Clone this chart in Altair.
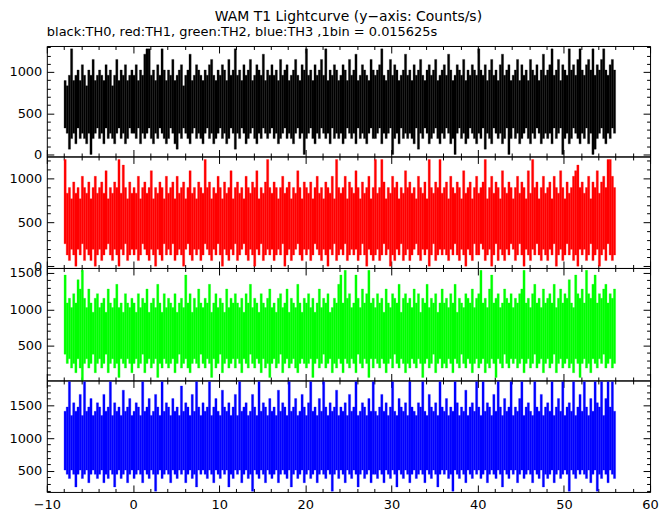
import altair as alt
import pandas as pd

# Lightcurve envelope: for every 0.25 s bin, the highest
# and the lowest rate (counts/s) reached by the 0.015625 s samples inside it.
T_START = -8.0
BIN_WIDTH = 0.25

th0_hi = [
    896, 832, 960, 1280, 896, 960, 1024, 896, 1088, 960, 832, 1024, 960, 1152, 896, 960,
    1024, 960, 896, 1088, 960, 1024, 832, 960, 1152, 896, 1024, 960, 1088, 896, 960, 1024,
    960, 1088, 896, 1024, 960, 1216, 1280, 1280, 960, 1024, 896, 1088, 960, 1280, 1024, 896,
    1024, 960, 1152, 896, 960, 1024, 1088, 832, 960, 1024, 1216, 896, 960, 1088, 1024, 960,
    896, 1024, 960, 1088, 1152, 960, 896, 1024, 960, 1088, 1024, 896, 1152, 960, 1024, 1280,
    960, 1024, 896, 1088, 960, 1024, 1152, 896, 960, 1088, 1024, 960, 1216, 896, 1024, 960,
    1088, 960, 1024, 896, 1152, 960, 1024, 1088, 896, 960, 1024, 1152, 960, 896, 1088, 1024,
    1280, 960, 1024, 896, 1088, 960, 1024, 1152, 960, 1280, 896, 1024, 960, 1088, 1024, 896,
    960, 1088, 1024, 896, 1152, 960, 1024, 1216, 896, 960, 1088, 1024, 960, 896, 1152, 1024,
    960, 1024, 1088, 1280, 960, 896, 1024, 1152, 960, 1088, 1024, 896, 960, 1024, 1216, 960,
    1024, 896, 1088, 960, 1024, 1152, 960, 896, 1024, 1088, 960, 1024, 1152, 896, 960, 1024,
    1088, 960, 1216, 1024, 896, 960, 1088, 1024, 960, 1152, 896, 1024, 960, 1088, 1024, 960,
    1280, 1024, 960, 1088, 896, 1024, 1152, 960, 1024, 896, 1088, 1216, 960, 1024, 1088, 896,
    960, 1024, 1152, 896, 1088, 960, 1024, 896, 1152, 1024, 960, 1088, 896, 1024, 1216, 960,
    1024, 1088, 1280, 960, 1024, 1152, 896, 1088, 1024, 960, 1280, 1024, 1088, 960, 1152, 1280,
    1024, 960, 1088, 1152, 1024, 1280, 960, 1088, 1024, 1152, 1280, 1024, 960, 1088, 1152, 1024,
]
th0_lo = [
    320, 256, 64, 192, 256, 128, 320, 192, 256, 192, 128, 256, 0, 192, 256, 320,
    192, 256, 128, 320, 192, 256, 192, 128, 256, 320, 192, 256, 128, 192, 320, 256,
    256, 192, 320, 128, 256, 192, 256, 320, 192, 128, 256, 192, 320, 256, 192, 128,
    192, 320, 256, 128, 64, 256, 192, 320, 256, 192, 128, 256, 320, 192, 256, 192,
    128, 256, 320, 192, 256, 128, 192, 256, 320, 192, 256, 128, 192, 320, 256, 64,
    256, 192, 320, 256, 128, 192, 256, 320, 192, 128, 256, 192, 320, 256, 192, 256,
    320, 192, 256, 128, 192, 256, 320, 192, 256, 192, 128, 256, 320, 192, 256, 0,
    192, 256, 320, 192, 128, 256, 192, 320, 256, 192, 256, 128, 320, 192, 256, 192,
    256, 128, 192, 320, 256, 192, 256, 128, 320, 192, 256, 192, 128, 256, 320, 192,
    192, 256, 320, 128, 256, 192, 256, 320, 0, 192, 256, 128, 320, 192, 256, 192,
    256, 192, 128, 320, 64, 256, 192, 320, 256, 128, 192, 256, 320, 192, 128, 256,
    192, 320, 256, 128, 192, 0, 256, 320, 192, 256, 128, 192, 320, 256, 192, 128,
    256, 192, 320, 64, 256, 192, 128, 320, 256, 192, 256, 128, 192, 320, 0, 192,
    320, 192, 256, 128, 192, 256, 320, 192, 128, 256, 192, 320, 256, 128, 192, 256,
    192, 256, 128, 320, 192, 256, 320, 0, 192, 256, 128, 192, 320, 256, 192, 128,
    256, 192, 320, 128, 256, 0, 64, 192, 256, 320, 192, 128, 256, 192, 320, 256,
]
th1_hi = [
    1216, 832, 896, 768, 960, 832, 896, 768, 1024, 896, 832, 960, 768, 896, 1024, 832,
    896, 960, 832, 1088, 768, 896, 832, 960, 896, 1216, 832, 1152, 896, 768, 960, 832,
    896, 832, 1024, 768, 896, 960, 832, 896, 1088, 768, 896, 832, 960, 896, 768, 1024,
    832, 896, 960, 768, 1024, 832, 896, 960, 768, 896, 1088, 832, 896, 768, 960, 896,
    832, 1216, 896, 960, 768, 896, 832, 1024, 896, 768, 960, 832, 896, 1088, 768, 896,
    960, 832, 896, 768, 1024, 896, 832, 960, 896, 1088, 768, 896, 832, 960, 1216, 896,
    832, 960, 896, 768, 896, 1024, 832, 896, 960, 768, 896, 832, 1088, 896, 768, 960,
    896, 832, 960, 768, 896, 1024, 832, 896, 768, 960, 896, 832, 1024, 768, 1216, 896,
    832, 896, 1024, 768, 960, 896, 832, 1088, 896, 768, 960, 832, 896, 1024, 768, 896,
    1216, 832, 896, 1216, 960, 768, 896, 832, 1024, 896, 960, 768, 896, 832, 1088, 896,
    960, 832, 896, 768, 1024, 896, 832, 960, 768, 1216, 896, 832, 960, 896, 1216, 832,
    896, 960, 768, 1024, 896, 832, 960, 896, 768, 1088, 832, 896, 960, 768, 896, 1024,
    832, 896, 960, 1216, 768, 896, 1024, 832, 960, 896, 768, 1088, 896, 832, 960, 896,
    768, 896, 1024, 832, 960, 896, 768, 1088, 832, 1216, 896, 960, 768, 896, 1024, 832,
    896, 960, 768, 1024, 896, 832, 1088, 896, 768, 960, 832, 896, 1024, 1088, 1152, 896,
    960, 832, 896, 1024, 768, 960, 896, 1088, 832, 960, 1024, 896, 1216, 1216, 1024, 896,
]
th1_lo = [
    256, 128, 64, 192, 128, 0, 192, 128, 256, 64, 192, 128, 64, 192, 0, 128,
    192, 64, 128, 192, 256, 128, 64, 192, 128, 0, 192, 128, 256, 64, 128, 192,
    128, 192, 64, 128, 256, 192, 128, 64, 192, 128, 0, 192, 128, 64, 256, 128,
    192, 128, 256, 64, 128, 192, 128, 0, 192, 256, 128, 64, 192, 128, 192, 64,
    128, 256, 192, 128, 64, 192, 128, 256, 128, 0, 192, 128, 64, 192, 128, 256,
    64, 128, 192, 256, 128, 64, 192, 128, 0, 192, 128, 256, 64, 128, 192, 128,
    192, 64, 128, 192, 128, 256, 0, 128, 192, 64, 128, 192, 256, 128, 64, 192,
    128, 192, 64, 128, 256, 192, 128, 64, 192, 128, 0, 192, 128, 256, 64, 128,
    192, 128, 256, 64, 128, 192, 128, 192, 64, 128, 256, 128, 0, 192, 128, 64,
    128, 192, 64, 128, 256, 128, 192, 0, 128, 64, 192, 128, 256, 64, 128, 192,
    64, 128, 192, 256, 128, 64, 192, 128, 192, 0, 128, 256, 64, 128, 192, 128,
    192, 128, 64, 192, 128, 256, 128, 64, 192, 128, 0, 192, 128, 64, 256, 128,
    128, 256, 192, 64, 128, 192, 0, 128, 256, 64, 192, 128, 64, 192, 128, 256,
    192, 64, 128, 256, 128, 0, 192, 128, 64, 192, 128, 256, 128, 64, 192, 128,
    64, 192, 128, 256, 0, 128, 192, 64, 128, 256, 128, 192, 64, 128, 0, 192,
    128, 192, 64, 128, 256, 64, 128, 192, 0, 128, 192, 64, 256, 128, 64, 128,
]
th2_hi = [
    1472, 1088, 1152, 1024, 1216, 1088, 1408, 1280, 1536, 1152, 1024, 1280, 1088, 960, 1152, 1216,
    1024, 1088, 1152, 960, 1280, 1088, 1024, 1152, 1344, 1024, 1088, 960, 1216, 1088, 1024, 1152,
    1088, 960, 1216, 1024, 1152, 1088, 1280, 960, 1088, 1152, 1024, 1344, 1088, 960, 1216, 1024,
    1152, 1088, 1024, 1216, 960, 1088, 1152, 1024, 1472, 1088, 1216, 960, 1152, 1024, 1280, 1088,
    1024, 1152, 1088, 1344, 960, 1088, 1216, 1024, 1152, 1088, 960, 1280, 1024, 1152, 1088, 1216,
    1088, 1024, 1152, 960, 1216, 1088, 1344, 1024, 1152, 1088, 960, 1216, 1088, 1024, 1152, 1280,
    1024, 1088, 960, 1152, 1216, 1024, 1088, 1280, 960, 1152, 1088, 1024, 1344, 1088, 960, 1152,
    1088, 1216, 1024, 1152, 960, 1088, 1280, 1024, 1152, 1088, 1216, 960, 1024, 1152, 1088, 1344,
    1472, 1088, 1536, 1152, 1216, 1024, 1088, 1472, 1152, 1024, 1280, 1088, 1216, 1536, 1088, 1152,
    1024, 1216, 1088, 1152, 960, 1280, 1088, 1024, 1216, 1152, 1088, 1344, 960, 1152, 1216, 1088,
    1152, 1024, 1280, 1088, 1216, 960, 1152, 1088, 1344, 1024, 1152, 1088, 1216, 960, 1088, 1280,
    1088, 1152, 1024, 1216, 1088, 1344, 960, 1152, 1088, 1024, 1216, 1152, 1088, 1280, 1024, 1152,
    1216, 1536, 1088, 1152, 1024, 1280, 1472, 1088, 1152, 1216, 1024, 1088, 1280, 1152, 1088, 1216,
    1024, 1152, 1088, 1216, 1280, 1536, 1088, 1152, 1024, 1216, 1344, 1088, 1152, 1024, 1280, 1088,
    1152, 1216, 1088, 1344, 1024, 1152, 1280, 1088, 1216, 1152, 1408, 1088, 1024, 1472, 1216, 1152,
    1280, 1088, 1536, 1216, 1152, 1344, 1472, 1088, 1216, 1152, 1280, 1344, 1088, 1216, 1152, 1280,
]
th2_lo = [
    384, 256, 320, 192, 256, 128, 320, 192, 0, 256, 320, 192, 256, 384, 128, 256,
    320, 192, 256, 384, 128, 256, 320, 192, 256, 64, 320, 256, 192, 320, 256, 128,
    256, 320, 192, 256, 384, 128, 256, 320, 192, 256, 320, 64, 256, 192, 320, 256,
    192, 256, 320, 128, 256, 384, 192, 256, 320, 192, 128, 256, 320, 256, 192, 384,
    256, 192, 320, 256, 64, 320, 192, 256, 384, 128, 256, 320, 192, 256, 320, 192,
    320, 256, 128, 320, 256, 192, 384, 256, 192, 320, 256, 128, 320, 192, 256, 64,
    256, 320, 192, 256, 384, 128, 256, 320, 192, 256, 320, 192, 128, 256, 320, 256,
    192, 256, 320, 64, 256, 320, 192, 256, 384, 192, 256, 320, 128, 256, 192, 320,
    256, 128, 320, 256, 192, 320, 256, 128, 384, 256, 192, 320, 256, 64, 320, 192,
    320, 256, 192, 320, 256, 128, 256, 320, 192, 384, 256, 192, 320, 256, 128, 256,
    192, 320, 256, 192, 320, 256, 64, 256, 320, 192, 256, 384, 128, 256, 320, 192,
    256, 192, 320, 256, 128, 320, 256, 192, 384, 256, 192, 320, 256, 128, 256, 320,
    192, 256, 320, 128, 256, 192, 320, 256, 64, 320, 256, 192, 384, 256, 192, 320,
    256, 320, 192, 256, 320, 128, 256, 320, 192, 256, 384, 192, 256, 320, 128, 256,
    320, 192, 256, 384, 128, 256, 320, 192, 256, 320, 192, 256, 128, 320, 256, 64,
    256, 320, 192, 256, 128, 320, 256, 192, 320, 256, 384, 192, 256, 320, 192, 256,
]
th3_hi = [
    1408, 1472, 1856, 1344, 1536, 1408, 1472, 1664, 1344, 1856, 1408, 1472, 1600, 1344, 1408, 1536,
    1472, 1344, 1664, 1408, 1472, 1856, 1344, 1536, 1408, 1472, 1344, 1728, 1408, 1472, 1600, 1344,
    1408, 1536, 1472, 1344, 1856, 1408, 1472, 1600, 1344, 1408, 1664, 1472, 1344, 1856, 1408, 1536,
    1472, 1344, 1600, 1408, 1472, 1344, 1792, 1408, 1536, 1472, 1344, 1664, 1408, 1856, 1472, 1344,
    1536, 1408, 1472, 1856, 1344, 1472, 1600, 1408, 1344, 1728, 1472, 1408, 1536, 1344, 1472, 1664,
    1344, 1856, 1408, 1472, 1536, 1344, 1408, 1664, 1472, 1344, 1856, 1408, 1536, 1472, 1344, 1600,
    1408, 1472, 1344, 1728, 1408, 1536, 1472, 1344, 1856, 1408, 1472, 1600, 1344, 1408, 1664, 1472,
    1344, 1536, 1856, 1408, 1472, 1344, 1600, 1408, 1856, 1472, 1344, 1536, 1408, 1472, 1728, 1344,
    1472, 1408, 1536, 1344, 1664, 1408, 1472, 1856, 1344, 1408, 1536, 1472, 1344, 1600, 1408, 1856,
    1408, 1344, 1472, 1664, 1408, 1536, 1344, 1472, 1856, 1408, 1344, 1600, 1472, 1408, 1536, 1344,
    1856, 1472, 1408, 1344, 1536, 1472, 1856, 1408, 1344, 1664, 1472, 1408, 1536, 1344, 1856, 1472,
    1408, 1600, 1344, 1472, 1408, 1856, 1536, 1344, 1472, 1408, 1728, 1344, 1472, 1536, 1408, 1856,
    1472, 1344, 1856, 1408, 1536, 1472, 1344, 1664, 1408, 1856, 1472, 1344, 1600, 1408, 1472, 1856,
    1344, 1472, 1408, 1600, 1856, 1344, 1472, 1536, 1408, 1344, 1856, 1472, 1408, 1664, 1344, 1472,
    1536, 1408, 1856, 1344, 1472, 1600, 1408, 1856, 1344, 1472, 1536, 1408, 1856, 1344, 1472, 1664,
    1408, 1856, 1472, 1344, 1600, 1408, 1856, 1536, 1472, 1856, 1344, 1600, 1856, 1472, 1856, 1408,
]
th3_lo = [
    512, 448, 384, 512, 448, 256, 448, 512, 384, 448, 512, 320, 448, 512, 448, 384,
    448, 512, 320, 448, 384, 512, 448, 256, 448, 512, 384, 448, 512, 320, 448, 512,
    384, 448, 512, 448, 320, 512, 448, 384, 512, 448, 192, 448, 512, 384, 448, 512,
    448, 320, 512, 448, 384, 512, 448, 512, 320, 448, 512, 384, 448, 256, 512, 448,
    512, 448, 384, 512, 448, 320, 512, 448, 384, 512, 448, 512, 256, 448, 384, 512,
    448, 512, 320, 448, 512, 384, 448, 192, 512, 448, 384, 512, 448, 320, 512, 448,
    384, 448, 512, 320, 448, 512, 448, 384, 512, 256, 448, 512, 384, 448, 512, 320,
    448, 512, 384, 448, 512, 320, 448, 512, 448, 384, 512, 448, 192, 448, 512, 384,
    512, 448, 320, 512, 448, 384, 512, 448, 256, 448, 512, 384, 448, 512, 320, 448,
    448, 384, 512, 448, 320, 512, 448, 384, 512, 448, 256, 512, 448, 384, 512, 448,
    320, 448, 512, 384, 448, 512, 448, 320, 512, 448, 384, 512, 448, 256, 448, 512,
    448, 512, 384, 448, 192, 512, 448, 384, 512, 448, 320, 512, 448, 384, 512, 448,
    512, 384, 448, 512, 320, 448, 512, 448, 384, 512, 448, 256, 512, 448, 384, 512,
    448, 512, 320, 448, 512, 384, 448, 512, 448, 320, 512, 448, 384, 512, 256, 448,
    384, 448, 512, 320, 448, 512, 384, 448, 512, 448, 192, 512, 448, 384, 512, 448,
    512, 448, 384, 512, 320, 448, 512, 192, 448, 384, 512, 448, 320, 512, 448, 384,
]

channels = [
    (th0_hi, th0_lo, "#000000", [-25, 1315], 111),
    (th1_hi, th1_lo, "#ff0000", [-20, 1250], 112),
    (th2_hi, th2_lo, "#00ff00", [22, 1569], 113),
    (th3_hi, th3_lo, "#0000ff", [180, 1876], 112),
]

MAIN_TITLE = "WAM T1 Lightcurve (y\u2212axis: Counts/s)"
SUB_TITLE = "black:TH0, red:TH1, green:TH2, blue:TH3 ,1bin = 0.015625s"
X_DOMAIN = [-10, 60]
X_TICKS = list(range(-10, 61, 2))
FONT = "DejaVu Sans"
MAJ = 7
W = 606


def dash(test):
    return {"condition": {"test": test, "value": [20, 0]}, "value": [0, 3.5, 20]}


def make_panel(hi, lo, color, ydom, height, last, title=None):
    n = min(len(hi), len(lo))
    df = pd.DataFrame({
        "t0": [T_START + BIN_WIDTH * i for i in range(n)],
        "t1": [T_START + BIN_WIDTH * (i + 1) for i in range(n)],
        "hi": hi[:n],
        "lo": lo[:n],
    })
    y_ticks = [v for v in range(0, 2001, 100) if ydom[0] <= v <= ydom[1]]
    xscale = alt.Scale(domain=X_DOMAIN, nice=False, zero=False)
    yscale = alt.Scale(domain=ydom, nice=False, zero=False)
    common = dict(domain=False, grid=False, title=None, tickColor="black", tickWidth=1,
                  tickSize=MAJ, offset=-MAJ, labelFont=FONT, labelFontSize=13,
                  labelColor="black", labelOverlap=False, labelFlush=False)
    x_bottom = alt.Axis(orient="bottom", values=X_TICKS, tickDash=dash("datum.value % 10 === 0"),
                        labels=last, labelExpr="datum.value % 10 === 0 ? datum.label : ''",
                        labelPadding=7, **common)
    x_top = alt.Axis(orient="top", values=X_TICKS, tickDash=dash("datum.value % 10 === 0"),
                     labels=False, **common)
    y_left = alt.Axis(orient="left", values=y_ticks, tickDash=dash("datum.value % 500 === 0"),
                      labelExpr="datum.value % 500 === 0 ? datum.label : ''",
                      labelPadding=5, format="d", **common)
    y_right = alt.Axis(orient="right", values=y_ticks, tickDash=dash("datum.value % 500 === 0"),
                       labels=False, **common)

    bars = alt.Chart(df).mark_bar(color=color, stroke=color, strokeWidth=0.3, clip=True).encode(
        x=alt.X("t0:Q", scale=xscale, axis=x_bottom),
        x2="t1:Q",
        y=alt.Y("lo:Q", scale=yscale, axis=y_left),
        y2="hi:Q",
    )
    frame = alt.Chart(df).mark_point(opacity=0).encode(
        x=alt.X("t0:Q", scale=xscale, axis=x_top),
        y=alt.Y("hi:Q", scale=yscale, axis=y_right),
    )
    layer = alt.layer(bars, frame).resolve_scale(x="independent", y="independent")
    props = dict(width=W, height=height)
    if title is not None:
        props["title"] = alt.TitleParams(title, anchor="start", frame="group", font=FONT,
                                         fontSize=13, fontWeight="normal", color="black", offset=2)
    return layer.properties(**props)


panels = []
for i, (hi, lo, color, ydom, h) in enumerate(channels):
    panels.append(make_panel(hi, lo, color, ydom, h, last=(i == len(channels) - 1),
                             title=SUB_TITLE if i == 0 else None))

chart = alt.vconcat(*panels, spacing=0, bounds="flush").properties(
    title=alt.TitleParams(MAIN_TITLE, anchor="middle", frame="group", font=FONT, fontSize=14,
                          fontWeight="normal", color="black", offset=2),
    padding={"left": 0, "top": 0, "right": 5, "bottom": 2},
).configure_view(stroke="black", strokeWidth=1)

chart.save("out.html", embed_options={"renderer": "svg", "actions": False})
